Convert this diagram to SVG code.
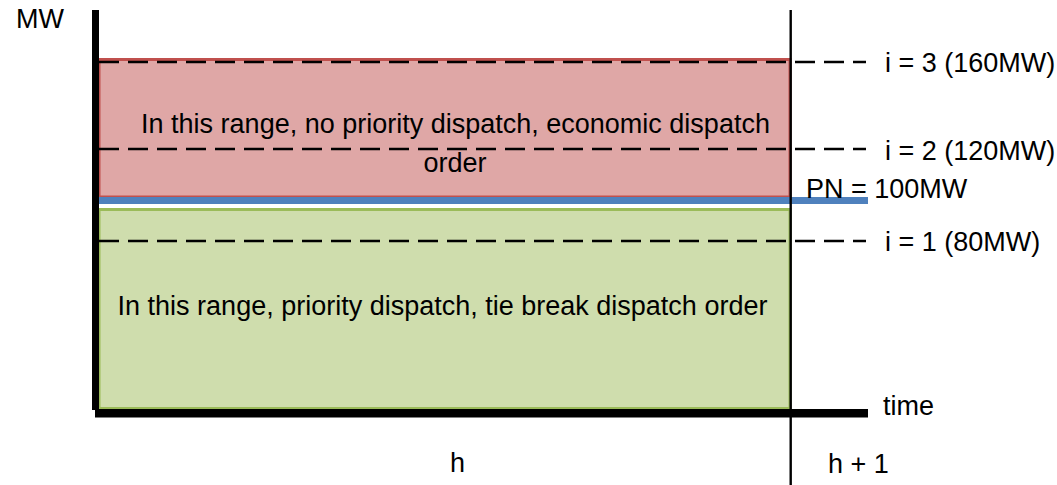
<svg xmlns="http://www.w3.org/2000/svg" width="1057" height="485" viewBox="0 0 1057 485">
<style>
text{font-family:"Liberation Sans",Arial,sans-serif;font-size:27px;fill:#000}
.dash{stroke:#000;stroke-width:2.6;stroke-dasharray:20 9;fill:none}
.mid{text-anchor:middle}
</style>
<rect width="1057" height="485" fill="#fff"/>
<g id="red-range">
<rect x="99" y="59.5" width="691" height="137.5" fill="#DFA7A6" stroke="#C0504D" stroke-width="3"/>
<text class="mid" x="455.5" y="133">In this range, no priority dispatch, economic dispatch</text>
<text class="mid" x="455" y="172">order</text>
</g>
<g id="green-range">
<rect x="99" y="209.5" width="691" height="199" fill="#CFDDAD" stroke="#9BBB59" stroke-width="3"/>
<text class="mid" x="442.5" y="315">In this range, priority dispatch, tie break dispatch order</text>
</g>
<g id="connectors">
<line class="dash" x1="99" y1="62" x2="866" y2="62"/>
<line class="dash" x1="99" y1="149" x2="866" y2="149"/>
<line class="dash" x1="99" y1="241" x2="866" y2="241"/>
<rect x="95" y="197" width="773" height="7" fill="#4F81BD"/>
<rect x="92" y="10" width="7" height="400" fill="#000"/>
<rect x="95" y="409" width="773" height="8.5" fill="#000"/>
<line x1="790.7" y1="10" x2="790.7" y2="485" stroke="#000" stroke-width="2.4"/>
</g>
<g id="labels">
<text x="16" y="28">MW</text>
<text x="885" y="72">i = 3 (160MW)</text>
<text x="885" y="160">i = 2 (120MW)</text>
<text x="806" y="198">PN = 100MW</text>
<text x="885" y="251">i = 1 (80MW)</text>
<text x="883" y="415">time</text>
<text x="450" y="472">h</text>
<text x="828" y="473">h + 1</text>
</g>
</svg>
